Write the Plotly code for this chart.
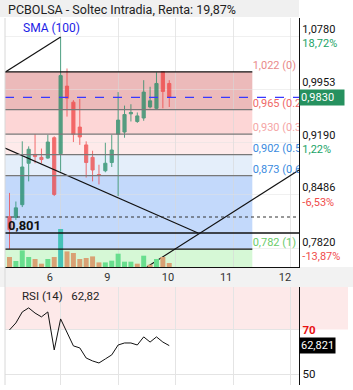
import math
import plotly.graph_objects as go

# ---------------- data ----------------
bars = list(range(26))
opens  = [0.821, 0.820, 0.836, 0.890, 0.902, 0.898, 0.897, 0.925, 0.903, 1.000, 0.976, 0.940, 0.915,
          0.898, 0.875, 0.880, 0.891, 0.930, 0.933, 0.959, 0.948, 0.953, 0.969, 0.967, 1.022, 1.004]
highs  = [0.851, 0.840, 0.920, 0.913, 0.930, 0.910, 0.929, 0.927, 1.077, 1.027, 0.979, 0.981, 0.920,
          0.907, 0.888, 0.918, 0.929, 0.991, 0.971, 0.973, 0.961, 1.009, 0.999, 1.021, 1.022, 1.009]
lows   = [0.782, 0.817, 0.833, 0.866, 0.890, 0.890, 0.896, 0.847, 0.879, 0.955, 0.919, 0.915, 0.871,
          0.866, 0.862, 0.878, 0.885, 0.847, 0.925, 0.948, 0.946, 0.949, 0.967, 0.966, 0.967, 0.969]
closes = [0.805, 0.832, 0.885, 0.909, 0.899, 0.895, 0.919, 0.849, 1.016, 0.982, 0.930, 0.926, 0.891,
          0.881, 0.874, 0.890, 0.908, 0.950, 0.958, 0.961, 0.956, 0.991, 0.978, 1.004, 0.992, 0.983]
volumes = [250, 150, 415, 250, 200, 83, 200, 250, 950, 390, 350, 200, 225,
           265, 115, 115, 158, 333, 133, 133, 83, 283, 58, 200, 250, 100]
rsi = [69.8, 72.9, 77.8, 79.6, 77.3, 75.6, 77.8, 60.9, 74.7, 68.9, 62.7, 61.8, 57.3,
       56.0, 55.1, 56.9, 58.7, 63.1, 64.0, 64.0, 63.1, 66.7, 64.4, 66.7, 64.4, 62.821]

day_labels = ['6', '9', '10', '11', '12']
day_label_pos = [6.3, 15.3, 24.8, 33.9, 43.1]
day_grid_pos = [8, 17, 26, 35, 44]

price_ticks = [1.078, 0.9953, 0.919, 0.8486, 0.782]
price_tick_pct = ['18,72%', '9,61%', '1,22%', '-6,53%', '-13,87%']

fib_high = 1.0218
fib_low = 0.7818
fib_ratios = [0, 0.236, 0.382, 0.5, 0.618, 1]
fib_end = 38

support_level = 0.801
prev_close = 0.8206

trend_top_x, trend_top_y = [-0.704, 8], [1.0213, 1.077]
trend_down_x, trend_down_y = [-0.704, 29.5], [0.9107, 0.801]
trend_up_x, trend_up_y = [21.5, 45.305], [0.7609, 0.881]

rsi_ticks = [50, 70]

# ---------------- layout geometry ----------------
W, H = 353, 390
ML, MR, MT, MB = 5, 54, 18, 5
PW, PH = W - ML - MR, H - MT - MB


def px(xp):
    return (xp - ML) / PW


def py(yp):
    return (H - MB - yp) / PH


x_range = [-0.704, 45.305]
y_lo, y_hi = 0.7609, 1.1084
rsi_range = [45.3, 88.9]
FONT = 'Roboto'

fib_levels = [fib_high - r * (fib_high - fib_low) for r in fib_ratios]
fib_labels = ['%s (%g)' % (('%.3f' % v).replace('.', ','), r) for v, r in zip(fib_levels, fib_ratios)]
fib_label_colors = ['#e98a8a', '#f06868', '#f5a5a5', '#3b8be0', '#3b8be0', '#6acb6a']
zone_colors = ['#ecbaba', '#fdd6d6', '#feeaea', '#e4eefa', '#c3d9fb', '#d6f8d6']

vmax = max(volumes)
vol_colors = []
for i, v in enumerate(volumes):
    ref = closes[i - 1] if i > 0 else opens[0]
    if v == vmax:
        vol_colors.append('#45c2b6')
    elif closes[i] >= ref:
        vol_colors.append('#68de8e')
    else:
        vol_colors.append('#d9a174')


def fmt4(v):
    return ('%.4f' % v).replace('.', ',')


tick_text = []
for v, p in zip(price_ticks, price_tick_pct):
    col = '#f04c4c' if p.startswith('-') else '#21a366'
    tick_text.append("%s<br><span style='color:%s'>%s</span>" % (fmt4(v), col, p))

fig = go.Figure()

fig.add_trace(go.Bar(x=bars, y=volumes, marker=dict(color=vol_colors, line=dict(width=0)),
                     width=0.78, xaxis='x', yaxis='y3', showlegend=False))

fig.add_trace(go.Candlestick(
    x=bars, open=opens, high=highs, low=lows, close=closes,
    increasing=dict(line=dict(color='#16875f', width=1), fillcolor='#16875f'),
    decreasing=dict(line=dict(color='#f03c3c', width=1), fillcolor='#f03c3c'),
    whiskerwidth=0, opacity=0.72, xaxis='x', yaxis='y', showlegend=False))

for tx, ty in [(trend_top_x, trend_top_y), (trend_down_x, trend_down_y), (trend_up_x, trend_up_y)]:
    fig.add_trace(go.Scatter(x=tx, y=ty, mode='lines', line=dict(color='#111', width=1.1),
                             xaxis='x', yaxis='y', showlegend=False, cliponaxis=True))

fig.add_trace(go.Scatter(
    x=[fib_end + 0.05] * len(fib_levels), y=fib_levels, mode='text', text=fib_labels,
    textposition='top right', textfont=dict(family=FONT, size=11, color=fib_label_colors),
    cliponaxis=True, xaxis='x', yaxis='y', showlegend=False))

fig.add_trace(go.Scatter(x=bars, y=rsi, mode='lines', line=dict(color='#111', width=1),
                         xaxis='x2', yaxis='y2', showlegend=False))

shapes = []
# header and axis band
shapes.append(dict(type='rect', xref='paper', yref='paper', x0=px(0), x1=px(299), y0=py(17), y1=py(0),
                   fillcolor='#f0f0f0', line=dict(width=0), layer='below'))
shapes.append(dict(type='rect', xref='paper', yref='paper', x0=px(0), x1=px(353), y0=py(287), y1=py(267),
                   fillcolor='#f2f2f2', line=dict(width=0), layer='below'))
# fib zones
bounds = fib_levels + [y_lo]
for i, c in enumerate(zone_colors):
    shapes.append(dict(type='rect', xref='x', yref='y', x0=x_range[0], x1=fib_end,
                       y0=bounds[i + 1], y1=bounds[i], fillcolor=c, line=dict(width=0), layer='below'))
for i, lv in enumerate(fib_levels):
    col = '#111' if fib_ratios[i] in (0, 1) else '#787878'
    shapes.append(dict(type='line', xref='x', yref='y', x0=x_range[0], x1=fib_end, y0=lv, y1=lv,
                       line=dict(color=col, width=1.2)))
shapes.append(dict(type='line', xref='x domain', yref='y', x0=0, x1=1, y0=support_level, y1=support_level,
                   line=dict(color='#111', width=1.3)))
shapes.append(dict(type='line', xref='x domain', yref='y', x0=0, x1=1, y0=prev_close, y1=prev_close,
                   line=dict(color='#333', width=1, dash='dot')))
shapes.append(dict(type='line', xref='x domain', yref='y', x0=0, x1=1, y0=closes[-1], y1=closes[-1],
                   line=dict(color='#3838ff', width=1.3, dash='dash')))
# RSI overbought band
shapes.append(dict(type='rect', xref='paper', yref='y2', x0=0, x1=px(348), y0=70, y1=rsi_range[1],
                   fillcolor='#fde9e9', line=dict(width=0), layer='below'))
# left frame
shapes.append(dict(type='line', xref='paper', yref='paper', x0=0, x1=0, y0=0, y1=1,
                   line=dict(color='#d8d8d8', width=1)))

annotations = [
    dict(text='PCBOLSA - Soltec Intradia, Renta: 19,87%', xref='paper', yref='paper', x=px(6), y=py(10),
         xanchor='left', yanchor='middle', showarrow=False, font=dict(family=FONT, size=12.5, color='#222')),
    dict(text='SMA (100)', xref='paper', yref='paper', x=px(21), y=py(28), xanchor='left', yanchor='middle',
         showarrow=False, font=dict(family=FONT, size=12, color='#1c1ce6')),
    dict(text='RSI (14)   %s' % ('%.2f' % rsi[-1]).replace('.', ','), xref='paper', yref='paper',
         x=px(20), y=py(296), xanchor='left', yanchor='middle', showarrow=False,
         font=dict(family=FONT, size=11.5, color='#222')),
    dict(text='<b>%s</b>' % ('%.3f' % support_level).replace('.', ','), xref='paper', yref='y', x=px(6),
         y=math.log10(support_level), xanchor='left', yanchor='bottom', showarrow=False, yshift=-2,
         font=dict(family=FONT, size=13, color='#111')),
    dict(text=fmt4(closes[-1]), xref='paper', yref='y', x=1, y=math.log10(closes[-1]), xanchor='left',
         yanchor='middle', showarrow=False, bgcolor='#26915f', width=42, align='left', borderpad=1,
         font=dict(family=FONT, size=11, color='white')),
    dict(text=('%.3f' % rsi[-1]).replace('.', ','), xref='paper', yref='y2', x=1, y=rsi[-1],
         xanchor='left', yanchor='middle', showarrow=False, bgcolor='#000', borderpad=1,
         font=dict(family=FONT, size=11, color='white')),
]

grid_col = 'rgba(215,215,215,0.6)'
fig.update_layout(
    width=W, height=H, margin=dict(l=ML, r=MR, t=MT, b=MB),
    paper_bgcolor='white', plot_bgcolor='white', hovermode=False, showlegend=False,
    font=dict(family=FONT, size=11, color='#222'),
    xaxis=dict(domain=[0, 1], range=x_range, anchor='y', tickmode='array', tickvals=day_label_pos,
               ticktext=day_labels, showgrid=False, zeroline=False, showline=True, linecolor='#111',
               linewidth=1.3, ticks='', tickfont=dict(size=11, color='#333'),
               minor=dict(tickmode='array', tickvals=day_grid_pos, showgrid=True, gridcolor=grid_col,
                          gridwidth=1, ticks=''),
               rangeslider=dict(visible=False)),
    xaxis2=dict(domain=[0, 1], matches='x', anchor='y2', showticklabels=False, showgrid=False,
                zeroline=False, ticks='',
                minor=dict(tickmode='array', tickvals=day_grid_pos, showgrid=True, gridcolor='#e4e4e4',
                           gridwidth=1, ticks='')),
    yaxis=dict(domain=[py(267), py(18)], type='log', range=[math.log10(y_lo), math.log10(y_hi)],
               side='right', anchor='x', tickmode='array', tickvals=price_ticks, ticktext=tick_text,
               showgrid=True, gridcolor='rgba(225,225,225,0.5)', zeroline=False, showline=True,
               linecolor='#111', linewidth=1.3, ticks='', tickfont=dict(size=11, color='#111')),
    yaxis2=dict(domain=[py(385), py(287)], range=rsi_range, side='right', anchor='x2',
                tickmode='array', tickvals=rsi_ticks,
                ticktext=['50', "<span style='color:#e81010'><b>70</b></span>"],
                showgrid=True, gridcolor='#e4e4e4', zeroline=False, showline=True, linecolor='#111',
                linewidth=1.3, ticks='', tickfont=dict(size=11.5, color='#111')),
    yaxis3=dict(overlaying='y', anchor='x', range=[0, 6225], visible=False, showgrid=False),
    shapes=shapes, annotations=annotations,
)

fig.write_html('out.html')
